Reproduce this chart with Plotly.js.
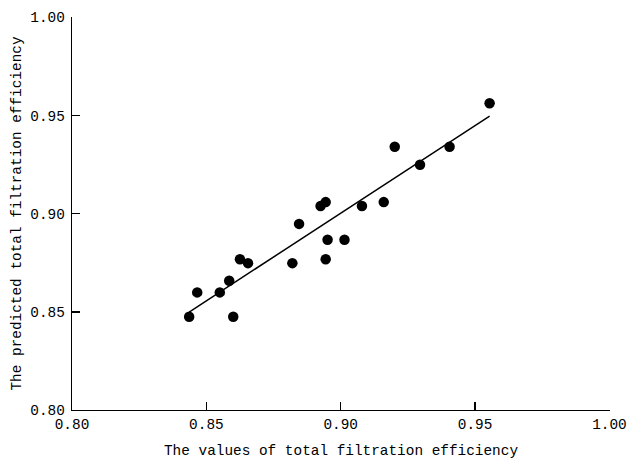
<!DOCTYPE html>
<html>
<head>
<meta charset="utf-8">
<script src="https://cdn.plot.ly/plotly-3.0.1.min.js"></script>
<style>html,body{margin:0;padding:0;background:#fff;}#chart{width:627px;height:463px;}</style>
</head>
<body>
<div id="chart"></div>
<script>
// Measured values (x) and predicted values (y) of total filtration efficiency
const measured = [0.8436, 0.8466, 0.8550, 0.8585, 0.8600, 0.8625, 0.8655, 0.8820, 0.8845, 0.8925,
                  0.8944, 0.8951, 0.8944, 0.9014, 0.9079, 0.9160, 0.9201, 0.9295, 0.9405, 0.9554];
const predicted = [0.8475, 0.8599, 0.8599, 0.8658, 0.8475, 0.8768, 0.8748, 0.8748, 0.8948, 0.9039,
                   0.9059, 0.8867, 0.8768, 0.8867, 0.9039, 0.9059, 0.9341, 0.9249, 0.9341, 0.9563];
// Fitted line end points
const fitX = [0.8436, 0.9554];
const fitY = [0.8499, 0.9497];
const tickVals = [0.80, 0.85, 0.90, 0.95, 1.00];
const tickText = ["0.80", "0.85", "0.90", "0.95", "1.00"];
const xTitle = "The values of total filtration efficiency";
const yTitle = "The predicted total filtration efficiency";

const font = {family: '"Liberation Mono", monospace', size: 14.4, color: '#000'};

const traces = [
  {x: fitX, y: fitY, type: 'scatter', mode: 'lines', line: {color: '#000', width: 1.5}, hoverinfo: 'skip'},
  {x: measured, y: predicted, type: 'scatter', mode: 'markers', marker: {color: '#000', size: 10.5}}
];

const axisBase = {
  range: [0.8, 1.0002], tickmode: 'array', tickvals: tickVals, ticktext: tickText,
  showline: true, linecolor: '#000', linewidth: 1.3, ticks: 'inside', ticklen: 8, tickwidth: 1.3,
  tickcolor: '#000', showgrid: false, zeroline: false, mirror: false, tickfont: font, automargin: false,
  ticklabeloverflow: 'allow'
};

const layout = {
  width: 627, height: 463, showlegend: false,
  paper_bgcolor: '#fff', plot_bgcolor: '#fff',
  margin: {l: 72, r: 17, t: 17, b: 52.5},
  font: font,
  xaxis: Object.assign({}, axisBase, {title: {text: xTitle, font: font, standoff: 13}}),
  yaxis: Object.assign({}, axisBase, {ticklabelstandoff: 3, title: {text: yTitle, font: font, standoff: 5}})
};

Plotly.newPlot('chart', traces, layout, {displayModeBar: false, staticPlot: true});
</script>
</body>
</html>
